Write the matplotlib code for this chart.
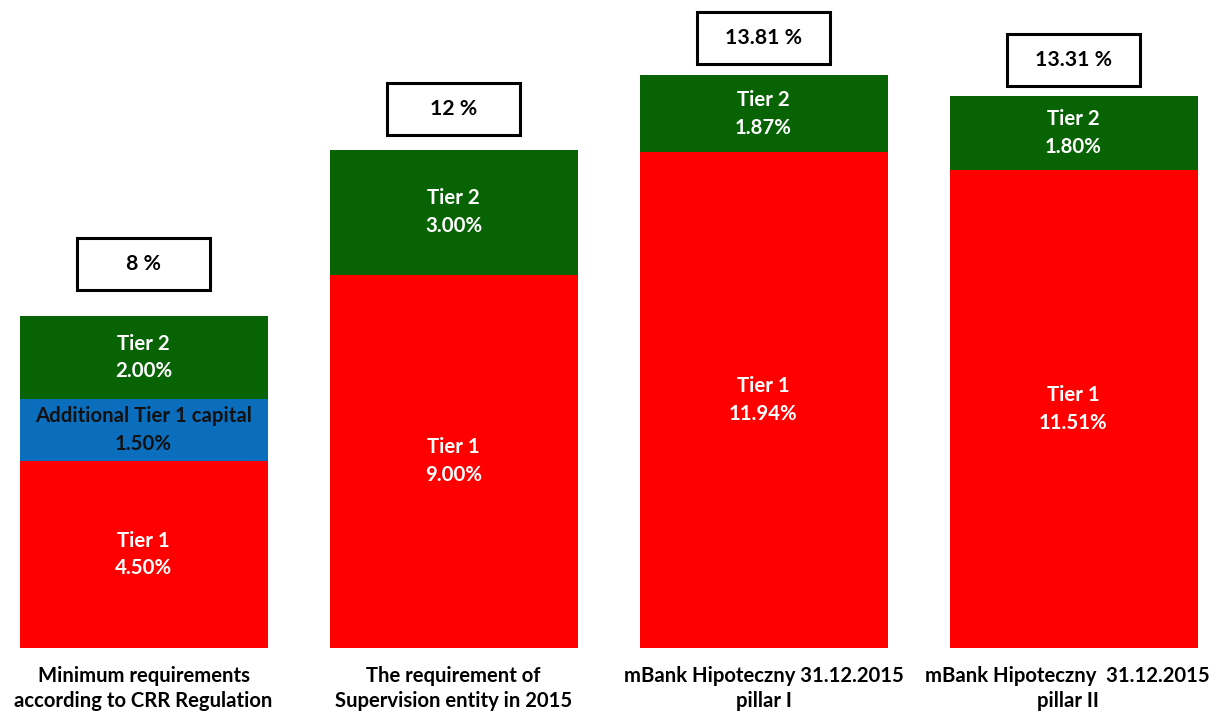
import matplotlib.pyplot as plt
from matplotlib.patches import Rectangle
from matplotlib.transforms import ScaledTranslation
import numpy as np

categories = [
    "Minimum requirements\naccording to CRR Regulation",
    "The requirement of\nSupervision entity in 2015",
    "mBank Hipoteczny 31.12.2015\npillar I",
    "mBank Hipoteczny  31.12.2015\npillar II",
]
tier1 = [4.50, 9.00, 11.94, 11.51]
additional_t1 = [1.50, 0.0, 0.0, 0.0]
tier2 = [2.00, 3.00, 1.87, 1.80]
total_labels = ["8 %", "12 %", "13.81 %", "13.31 %"]

RED = "#ff0000"
BLUE = "#0a6ebd"
GREEN = "#086305"

plt.rcParams['font.family'] = ['Lato', 'DejaVu Sans']
plt.rcParams['font.weight'] = 'bold'

fig = plt.figure(figsize=(12.16, 7.16), dpi=100)
ax = fig.add_axes([19.5 / 1216, 68 / 716, 1178 / 1216, 622.5 / 716])

x = np.arange(len(categories))
w = 0.8
t1 = np.array(tier1)
a1 = np.array(additional_t1)
t2 = np.array(tier2)

ax.bar(x, t1, w, color=RED)
ax.bar(x, a1, w, bottom=t1, color=BLUE)
ax.bar(x, t2, w, bottom=t1 + a1, color=GREEN)

fs = 14.7
ls = 1.48
for i in range(len(x)):
    ax.text(x[i], t1[i] / 2, f"Tier 1\n{t1[i]:.2f}%", ha="center", va="center",
            color="white", fontsize=fs, linespacing=ls)
    if a1[i] > 0:
        ax.text(x[i], t1[i] + a1[i] / 2, f"Additional Tier 1 capital\n{a1[i]:.2f}%",
                ha="center", va="center", color="#111111", fontsize=fs, linespacing=ls)
    ax.text(x[i], t1[i] + a1[i] + t2[i] / 2, f"Tier 2\n{t2[i]:.2f}%", ha="center",
            va="center", color="white", fontsize=fs, linespacing=ls)

# boxes with totals above bars (gap in data units)
box_gap = [0.63, 0.36, 0.27, 0.24]
bw, bh = 0.432, 1.25
for i in range(len(x)):
    top = t1[i] + a1[i] + t2[i]
    y0 = top + box_gap[i]
    ax.add_patch(Rectangle((x[i] - bw / 2, y0), bw, bh, facecolor="white",
                           edgecolor="black", lw=2.2, clip_on=False, zorder=3))
    ax.text(x[i], y0 + bh / 2, total_labels[i], ha="center", va="center",
            fontsize=15.3, color="black", zorder=4)

ax.set_xlim(-0.4, 3.4)
ax.set_ylim(0, 15)
ax.set_xticks(x)
ax.set_xticklabels(categories, fontsize=14.6, linespacing=1.3)
ax.tick_params(axis="x", length=0, pad=13)
ax.set_yticks([])
for s in ax.spines.values():
    s.set_visible(False)

# last label sits a little left of its bar, as in the original
last = ax.get_xticklabels()[-1]
last.set_transform(last.get_transform() + ScaledTranslation(-6 / 100, 0, fig.dpi_scale_trans))

fig.savefig("out.png", dpi=100)
